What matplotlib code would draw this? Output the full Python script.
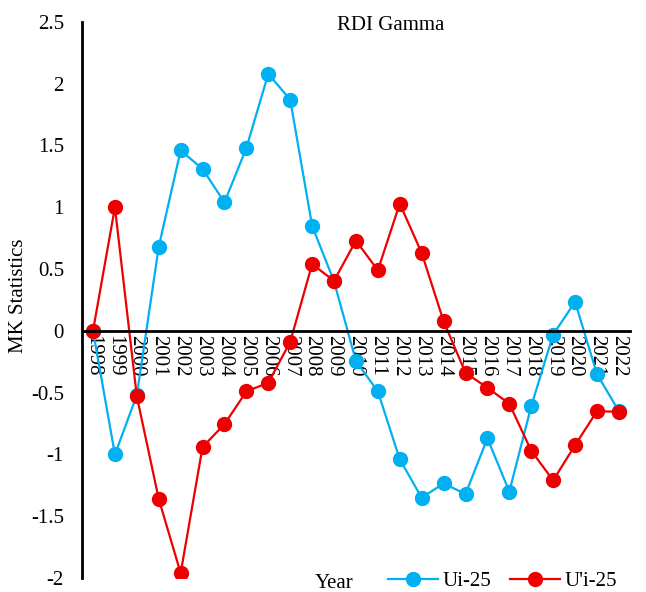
import numpy as np
import matplotlib.pyplot as plt

plt.rcParams['font.family'] = ['Liberation Serif', 'DejaVu Serif']

# Mann-Kendall sequential statistics, RDI Gamma
years = [str(y) for y in range(1998, 2023)]
ui_25 = [0, -1.0, -0.52, 0.68, 1.46, 1.31, 1.04, 1.48, 2.08, 1.87, 0.85, 0.40,
         -0.245, -0.49, -1.04, -1.35, -1.235, -1.32, -0.87, -1.30, -0.61, -0.03,
         0.235, -0.35, -0.65]
u_prime_25 = [0, 1.0, -0.53, -1.36, -1.96, -0.94, -0.755, -0.49, -0.42, -0.09,
              0.54, 0.405, 0.73, 0.49, 1.03, 0.63, 0.078, -0.34, -0.46, -0.59,
              -0.97, -1.21, -0.925, -0.65, -0.655]
y_ticks = [-2, -1.5, -1, -0.5, 0, 0.5, 1, 1.5, 2, 2.5]

fig = plt.figure(figsize=(6.46, 5.92), dpi=100)
ax = fig.add_axes([0.127, 0.0236, 0.848, 0.9394])

x = np.arange(len(years))
ax.plot(x, ui_25, color='#00B0F0', marker='o', markersize=10, linewidth=1.6,
        label='Ui-25')
ax.plot(x, u_prime_25, color='#EE0000', marker='o', markersize=10, linewidth=1.6,
        label="U'i-25")

ax.set_xlim(-0.5, len(years) - 0.5)
ax.set_ylim(-2, 2.5)
ax.set_yticks(y_ticks)
ax.set_yticklabels([f'{v:g}' for v in y_ticks])
ax.set_xticks(x)
ax.set_xticklabels(years)

for s in ['top', 'right']:
    ax.spines[s].set_visible(False)
ax.spines['bottom'].set_position(('data', 0))
ax.spines['bottom'].set_linewidth(2)
ax.spines['left'].set_linewidth(2)
ax.tick_params(axis='both', length=0, labelsize=15)
ax.tick_params(axis='y', pad=13)
ax.tick_params(axis='x', pad=3, labelrotation=270)

fig.text(0.605, 0.957, 'RDI Gamma', ha='center', va='center', fontsize=15)
fig.text(0.028, 0.50, 'MK Statistics', rotation=90, ha='center', va='center',
         fontsize=15)
fig.text(0.517, 0.015, 'Year', ha='center', va='center', fontsize=15)

ax.legend(loc='center', bbox_to_anchor=(0.778, 0.018), bbox_transform=fig.transFigure,
          ncol=2, frameon=False, fontsize=15, handlelength=2.4, handletextpad=0.2,
          columnspacing=0.9, borderaxespad=0)

fig.savefig('out.png', dpi=100)
